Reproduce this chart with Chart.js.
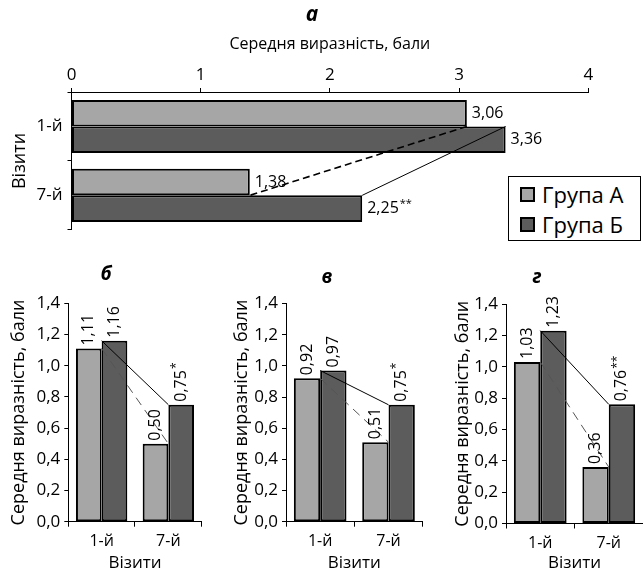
<!DOCTYPE html>
<html lang="uk">
<head>
<meta charset="UTF-8">
<title>Середня виразність, бали</title>
<script src="https://cdn.jsdelivr.net/npm/chart.js"></script>
<style>
  body { margin: 0; background: #fff; }
  #page { position: relative; width: 643px; height: 570px; overflow: hidden; }
  canvas { position: absolute; }
  #legend {
    position: absolute; left: 508px; top: 176px; width: 131px; height: 63px;
    border: 1px solid #000; background: #fff;
    font: 22px "Open Sans", sans-serif; color: #000;
  }
  #legend div { position: relative; height: 30px; line-height: 30px; padding-left: 33px; }
  #legend span {
    position: absolute; left: 11px; top: 8px; width: 11px; height: 11px;
    border: 2px solid #000;
  }
</style>
</head>
<body>
<div id="page">
  <canvas id="chartA" width="643" height="245" style="left:0;top:0"></canvas>
  <canvas id="chartB" width="215" height="325" style="left:0;top:250px"></canvas>
  <canvas id="chartV" width="215" height="325" style="left:215px;top:250px"></canvas>
  <canvas id="chartG" width="213" height="325" style="left:430px;top:250px"></canvas>
  <div id="legend">
    <div style="margin-top:2px"><span style="background:#a6a6a6"></span>Група А</div>
    <div><span style="background:#5c5c5c"></span>Група Б</div>
  </div>
</div>

<script>
// visits
const visits = ['1-й', '7-й'];

// а
const groupA_a = [3.06, 1.38];
const groupB_a = [3.36, 2.25];
const marksB_a = ['', '**'];
// б
const groupA_b = [1.11, 0.50];
const groupB_b = [1.16, 0.75];
const marksB_b = ['', '*'];
// в
const groupA_v = [0.92, 0.51];
const groupB_v = [0.97, 0.75];
const marksB_v = ['', '*'];
// г
const groupA_g = [1.03, 0.36];
const groupB_g = [1.23, 0.76];
const marksB_g = ['', '**'];

const topTicks = [0, 1, 2, 3, 4];
const sideTicks = [0, 0.2, 0.4, 0.6, 0.8, 1.0, 1.2, 1.4];
const noMarks = ['', ''];

const colorA = '#a6a6a6';
const colorB = '#5c5c5c';
const FONT = '"Open Sans", sans-serif';

Chart.defaults.font.family = FONT;
Chart.defaults.color = '#000';

const fmt = v => v.toFixed(2).replace('.', ',');

// value labels next to / above the bars
const barLabels = {
  id: 'barLabels',
  afterDatasetsDraw(chart, args, opts) {
    const ctx = chart.ctx;
    const horizontal = chart.options.indexAxis === 'y';
    chart.data.datasets.forEach((ds, i) => {
      if (ds.type === 'line') return;
      const meta = chart.getDatasetMeta(i);
      meta.data.forEach((el, j) => {
        const txt = fmt(ds.data[j]);
        const mark = opts.marks[i][j];
        ctx.save();
        ctx.fillStyle = '#000';
        ctx.textAlign = 'left';
        ctx.textBaseline = 'middle';
        if (horizontal) {
          ctx.translate(el.x + opts.gap, el.y);
        } else {
          ctx.translate(el.x, el.y - opts.gap);
          ctx.rotate(-Math.PI / 2);
        }
        ctx.font = opts.size + 'px ' + FONT;
        ctx.fillText(txt, 0, 0);
        if (mark) {
          const w = ctx.measureText(txt).width;
          ctx.font = opts.markSize + 'px ' + FONT;
          ctx.fillText(mark, w + 1, -opts.size * 0.3);
        }
        ctx.restore();
      });
    });
  }
};

// panel letter (а, б, в, г)
const panelTitle = {
  id: 'panelTitle',
  afterDraw(chart, args, opts) {
    const ctx = chart.ctx;
    ctx.save();
    ctx.font = 'italic bold ' + opts.size + 'px ' + FONT;
    ctx.textAlign = 'center';
    ctx.textBaseline = 'alphabetic';
    ctx.fillStyle = '#000';
    ctx.fillText(opts.text, opts.x, opts.y);
    ctx.restore();
  }
};

function datasets(A, B, dashColor, dashWidth, dash) {
  return [
    { label: 'Група А', data: A, backgroundColor: colorA, borderColor: '#000', borderWidth: 2, borderSkipped: false, order: 1 },
    { label: 'Група Б', data: B, backgroundColor: colorB, borderColor: '#000', borderWidth: 2, borderSkipped: false, order: 1 },
    { type: 'line', data: A, borderColor: dashColor, borderWidth: dashWidth, borderDash: dash, pointRadius: 0, fill: false, order: 0 },
    { type: 'line', data: B, borderColor: '#000', borderWidth: 1, pointRadius: 0, fill: false, order: 0 }
  ];
}

// а — horizontal bars
new Chart(document.getElementById('chartA'), {
  type: 'bar',
  data: { labels: visits, datasets: datasets(groupA_a, groupB_a, '#000', 1.6, [7, 4]) },
  options: {
    responsive: false,
    animation: false,
    indexAxis: 'y',
    categoryPercentage: 0.77,
    barPercentage: 1,
    layout: { padding: { left: 0, top: 0, right: 54.7, bottom: 15 } },
    plugins: {
      legend: { display: false },
      tooltip: { enabled: false },
      barLabels: { marks: [noMarks, marksB_a], gap: 5, size: 16, markSize: 11 },
      panelTitle: { text: 'а', x: 312, y: 21, size: 21 }
    },
    scales: {
      x: {
        position: 'top', min: 0, max: 4,
        afterBuildTicks: s => { s.ticks = topTicks.map(v => ({ value: v })); },
        afterFit: s => { s.height = 92; },
        ticks: { font: { size: 17 }, padding: 3 },
        grid: { drawOnChartArea: false, tickLength: 4, color: '#000' },
        border: { color: '#000', width: 1 },
        title: { display: true, text: 'Середня виразність, бали', font: { size: 16 }, padding: { top: 35 } }
      },
      y: {
        afterFit: s => { s.width = 71.5; },
        ticks: { font: { size: 17 }, padding: 5 },
        grid: { drawOnChartArea: false, tickLength: 4, color: '#000' },
        border: { color: '#000', width: 1 },
        title: { display: true, text: 'Візити', font: { size: 18 }, padding: { top: 9 } }
      }
    }
  },
  plugins: [barLabels, panelTitle]
});

// б, в, г — vertical bars
function columnChart(id, A, B, marks, letter, box) {
  return new Chart(document.getElementById(id), {
    type: 'bar',
    data: { labels: visits, datasets: datasets(A, B, '#555', 1, [9, 6]) },
    options: {
      responsive: false,
      animation: false,
      categoryPercentage: 0.77,
      barPercentage: 1,
      layout: { padding: { left: 0, top: box.padTop, right: box.padRight, bottom: 0 } },
      plugins: {
        legend: { display: false },
        tooltip: { enabled: false },
        barLabels: { marks: [noMarks, marks], gap: 3, size: 16, markSize: 12 },
        panelTitle: { text: letter, x: box.titleX, y: box.titleY, size: 19 }
      },
      scales: {
        x: {
          afterFit: s => { s.height = box.xHeight; },
          ticks: { font: { size: 16 }, padding: 5 },
          grid: { drawOnChartArea: false, tickLength: 5, color: '#000' },
          border: { color: '#000', width: 1 },
          title: { display: true, text: 'Візити', font: { size: 17 }, padding: { bottom: 2 } }
        },
        y: {
          min: 0, max: 1.4,
          afterBuildTicks: s => { s.ticks = sideTicks.map(v => ({ value: v })); },
          afterFit: s => { s.width = box.axisWidth; },
          ticks: { font: { size: 17 }, padding: 4, callback: v => v.toFixed(1).replace('.', ',') },
          grid: { drawOnChartArea: false, tickLength: 4, color: '#000' },
          border: { color: '#000', width: 1 },
          title: { display: true, text: 'Середня виразність, бали', font: { size: 18 }, padding: { top: box.yTitlePad } }
        }
      }
    },
    plugins: [barLabels, panelTitle]
  });
}

columnChart('chartB', groupA_b, groupB_b, marksB_b, 'б',
  { axisWidth: 68.3, padTop: 53.3, padRight: 13.3, xHeight: 53.3, yTitlePad: 8.5, titleX: 106, titleY: 30 });
columnChart('chartV', groupA_v, groupB_v, marksB_v, 'в',
  { axisWidth: 71, padTop: 53.5, padRight: 7.3, xHeight: 53.3, yTitlePad: 15.9, titleX: 112, titleY: 33 });
columnChart('chartG', groupA_g, groupB_g, marksB_g, 'г',
  { axisWidth: 76, padTop: 54, padRight: 0, xHeight: 51.5, yTitlePad: 22.5, titleX: 107, titleY: 33 });
</script>
</body>
</html>
